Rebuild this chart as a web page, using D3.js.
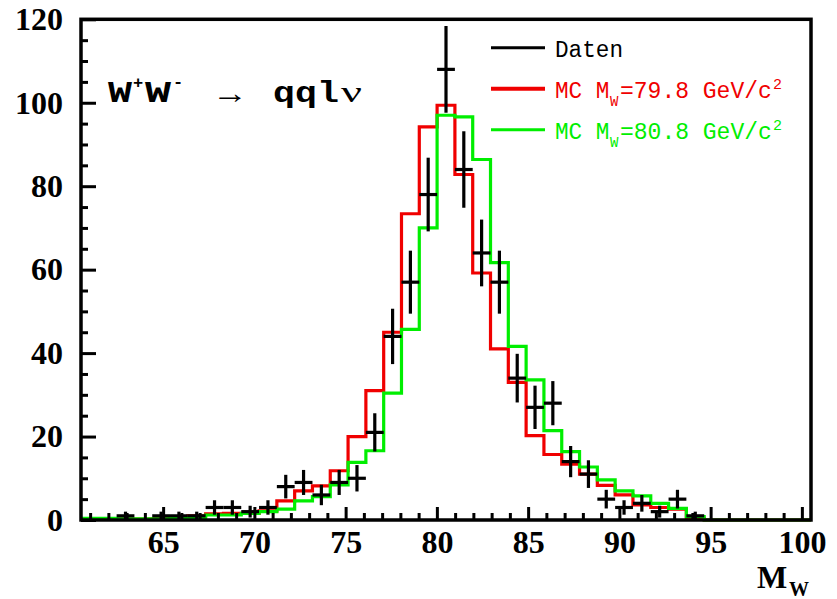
<!DOCTYPE html>
<html>
<head>
<meta charset="utf-8">
<script src="https://cdn.jsdelivr.net/npm/d3@7"></script>
<style>
  body { margin: 0; background: #fff; }
  svg { display: block; }
</style>
</head>
<body>
<svg id="chart" width="837" height="599"></svg>
<script>
// histogram: 41 bins spread over the axis range
const xRange = [60.5, 100.5];
const nBins = 41;

// measured events per bin
const daten = [0, 0, 1, 0, 1, 1, 1, 3, 3, 2, 3, 8, 9, 6, 9, 10, 21, 44, 57, 78, 108,
  84, 64, 57, 34, 27, 28, 14, 11, 5, 3, 4, 2, 5, 1, 0, 0, 0, 0, 0, 0];

// MC with M_W = 79.8 GeV/c^2
const mc798 = [0.2, 0.2, 0.2, 0.2, 0.3, 0.5, 1.0, 1.5, 1.6, 1.6, 2.2, 4.6, 7.0, 8.2, 11.8,
  20, 31, 45, 73.4, 94.2, 99.4, 82.8, 59.2, 41, 33, 20.2, 15.7, 13.4, 11, 8.3, 6.0, 3.6,
  3.0, 2.6, 0.4, 0, 0, 0, 0, 0, 0];

// MC with M_W = 80.8 GeV/c^2
const mc808 = [0.4, 0.4, 0.3, 0.3, 0.3, 0.4, 0.5, 1.2, 1.2, 1.6, 2.0, 2.6, 4.6, 5.6, 8.4,
  13.8, 16.6, 30.4, 45.7, 70, 97, 96.6, 86.4, 61.7, 41.6, 33.6, 21.4, 16.4, 12.7, 9.6, 7.0,
  5.8, 4.0, 2.8, 0.8, 0, 0, 0, 0, 0, 0];

const xMajor = [65, 70, 75, 80, 85, 90, 95, 100];
const yMajor = [0, 20, 40, 60, 80, 100, 120];

const legendItems = [
  { label: "Daten", color: "#000", width: 3 },
  { label: "MC M", sub: "W", rest: "=79.8 GeV/c", sup: "2", color: "#f00000", width: 4 },
  { label: "MC M", sub: "W", rest: "=80.8 GeV/c", sup: "2", color: "#00ee00", width: 3 },
];

const svg = d3.select("#chart");
const frame = { left: 81, right: 811, top: 19.3, bottom: 520 };

const x = d3.scaleLinear().domain(xRange).range([frame.left, frame.right]);
const y = d3.scaleLinear().domain([0, 120]).range([frame.bottom, frame.top]);
const bw = (xRange[1] - xRange[0]) / nBins;
const edge = (i) => xRange[0] + i * bw;

// step outline of a histogram
const stepLine = d3.line()
  .x((d) => x(d[0]))
  .y((d) => y(d[1]))
  .curve(d3.curveStepAfter);

const histPoints = (counts) => {
  const pts = counts.map((v, i) => [edge(i), v]);
  pts.push([xRange[1], counts[counts.length - 1]]);
  return pts;
};

svg.append("path")
  .attr("d", stepLine(histPoints(mc798)))
  .attr("fill", "none")
  .attr("stroke", legendItems[1].color)
  .attr("stroke-width", 3.2);

svg.append("path")
  .attr("d", stepLine(histPoints(mc808)))
  .attr("fill", "none")
  .attr("stroke", legendItems[2].color)
  .attr("stroke-width", 3.2);

// data points with sqrt(N) errors
const pts = daten.map((v, i) => ({ i, v })).filter((d) => d.v > 0);
const errG = svg.append("g").attr("stroke", "#000").attr("stroke-width", 3.2);

errG.selectAll(".ev")
  .data(pts)
  .enter()
  .append("line")
  .attr("class", "ev")
  .attr("x1", (d) => x(edge(d.i) + bw / 2))
  .attr("x2", (d) => x(edge(d.i) + bw / 2))
  .attr("y1", (d) => y(Math.max(0, d.v - Math.sqrt(d.v))))
  .attr("y2", (d) => y(d.v + Math.sqrt(d.v)));

errG.selectAll(".eh")
  .data(pts)
  .enter()
  .append("line")
  .attr("class", "eh")
  .attr("x1", (d) => x(edge(d.i)))
  .attr("x2", (d) => x(edge(d.i + 1)))
  .attr("y1", (d) => y(d.v))
  .attr("y2", (d) => y(d.v));

// axes, ticks pointing inwards
const tickFont = (g) => {
  g.select(".domain").remove();
  g.selectAll("line").attr("stroke", "#000").attr("stroke-width", 3);
  g.selectAll("text")
    .attr("fill", "#000")
    .style("font-family", "'Liberation Serif', 'Times New Roman', serif")
    .style("font-weight", "bold")
    .style("font-size", "32px");
};

svg.append("g")
  .attr("transform", `translate(0,${frame.bottom})`)
  .call(d3.axisBottom(x).tickValues(d3.range(61, 101).filter((d) => d % 5 !== 0)).tickSize(-7).tickFormat(""))
  .call(tickFont);

svg.append("g")
  .attr("transform", `translate(0,${frame.bottom})`)
  .call(d3.axisBottom(x).tickValues(xMajor).tickSize(-13).tickPadding(10).tickFormat(d3.format("d")))
  .call(tickFont);

svg.append("g")
  .attr("transform", `translate(${frame.left},0)`)
  .call(d3.axisLeft(y).tickValues(d3.range(5, 120, 5).filter((d) => d % 20 !== 0)).tickSize(-7).tickFormat(""))
  .call(tickFont);

svg.append("g")
  .attr("transform", `translate(${frame.left},0)`)
  .call(d3.axisLeft(y).tickValues(yMajor).tickSize(-15).tickPadding(18).tickFormat(d3.format("d")))
  .call(tickFont);

// frame
svg.append("rect")
  .attr("x", frame.left)
  .attr("y", frame.top)
  .attr("width", frame.right - frame.left)
  .attr("height", frame.bottom - frame.top)
  .attr("fill", "none")
  .attr("stroke", "#000")
  .attr("stroke-width", 3.5);

// axis title M_W
const serif = "'Liberation Serif', 'Times New Roman', serif";
svg.append("text")
  .attr("x", 757).attr("y", 588)
  .style("font-family", serif).style("font-weight", "bold").style("font-size", "32px")
  .text("M");
svg.append("text")
  .attr("x", 789).attr("y", 596)
  .style("font-family", serif).style("font-weight", "bold").style("font-size", "20px")
  .text("W");

// process label
const mono = "'Liberation Mono', 'Courier New', monospace";
const title = svg.append("g")
  .style("font-family", mono)
  .style("font-weight", "bold")
  .attr("fill", "#000");
title.append("text").attr("x", 108).attr("y", 102).style("font-size", "29px")
  .attr("textLength", 24).attr("lengthAdjust", "spacingAndGlyphs").text("W");
title.append("text").attr("x", 133).attr("y", 88).style("font-size", "17px").text("+");
title.append("text").attr("x", 145).attr("y", 102).style("font-size", "29px")
  .attr("textLength", 26).attr("lengthAdjust", "spacingAndGlyphs").text("W");
title.append("text").attr("x", 173).attr("y", 87).style("font-size", "17px").text("-");
title.append("text").attr("x", 212).attr("y", 103).style("font-family", serif)
  .style("font-weight", "normal").style("font-size", "30px")
  .attr("textLength", 36).attr("lengthAdjust", "spacingAndGlyphs").text("\u2192");
title.append("text").attr("x", 273).attr("y", 102).style("font-size", "29px")
  .attr("textLength", 66).attr("lengthAdjust", "spacingAndGlyphs").text("qql");
title.append("text").attr("x", 341).attr("y", 102).style("font-family", serif)
  .style("font-weight", "normal").style("font-size", "30px")
  .attr("textLength", 21).attr("lengthAdjust", "spacingAndGlyphs").text("\u03bd");

// legend
const leg = svg.append("g").style("font-family", mono);
legendItems.forEach((d, i) => {
  const base = 56.7 + i * 41;
  leg.append("line")
    .attr("x1", 491).attr("x2", 545)
    .attr("y1", base - 9).attr("y2", base - 9)
    .attr("stroke", d.color).attr("stroke-width", d.width);
  leg.append("text")
    .attr("x", 555).attr("y", base)
    .attr("fill", d.color).style("font-size", "23px")
    .attr("textLength", d.label.length * 13.6).attr("lengthAdjust", "spacingAndGlyphs")
    .text(d.label);
  if (d.sub) {
    leg.append("text")
      .attr("x", 610).attr("y", base + 8)
      .attr("fill", d.color).style("font-size", "14px")
      .text(d.sub);
    leg.append("text")
      .attr("x", 620).attr("y", base)
      .attr("fill", d.color).style("font-size", "23px")
      .attr("textLength", d.rest.length * 13.8).attr("lengthAdjust", "spacingAndGlyphs")
      .text(d.rest);
    leg.append("text")
      .attr("x", 773).attr("y", base - 9)
      .attr("fill", d.color).style("font-size", "15px")
      .text(d.sup);
  }
});
</script>
</body>
</html>
